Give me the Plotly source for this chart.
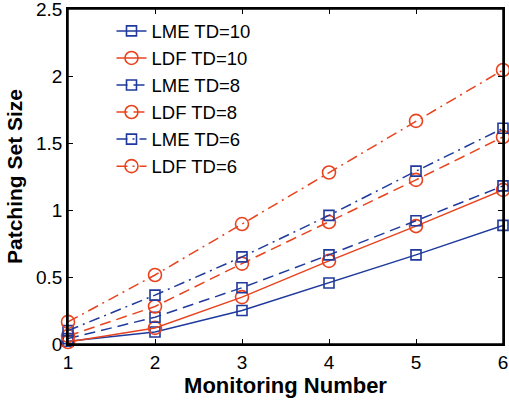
import plotly.graph_objects as go

x = [1, 2, 3, 4, 5, 6]
lme_td10 = [0.02, 0.09, 0.25, 0.455, 0.665, 0.885]
ldf_td10 = [0.015, 0.12, 0.35, 0.62, 0.88, 1.15]
lme_td8 = [0.04, 0.20, 0.42, 0.665, 0.92, 1.18]
ldf_td8 = [0.06, 0.28, 0.60, 0.91, 1.225, 1.545]
lme_td6 = [0.10, 0.365, 0.65, 0.96, 1.29, 1.61]
ldf_td6 = [0.165, 0.515, 0.895, 1.28, 1.665, 2.045]
y_ticks = [0, 0.5, 1, 1.5, 2, 2.5]
y_ticktext = ["0", "0.5", "1", "1.5", "2", "2.5"]

BLUE = "#1f3a9c"
RED = "#e8431e"
DASH = "11px,6px"
DASHDOT = "11px,5px,2px,5px"

series = [
    ("LME TD=10", lme_td10, BLUE, "square-open", "solid", 10),
    ("LDF TD=10", ldf_td10, RED, "circle-open", "solid", 13),
    ("LME TD=8", lme_td8, BLUE, "square-open", DASH, 10),
    ("LDF TD=8", ldf_td8, RED, "circle-open", DASH, 13),
    ("LME TD=6", lme_td6, BLUE, "square-open", DASHDOT, 10),
    ("LDF TD=6", ldf_td6, RED, "circle-open", DASHDOT, 13),
]

fig = go.Figure()
for name, ys, color, sym, dash, size in series:
    fig.add_trace(go.Scatter(
        x=x, y=ys, name=name, mode="lines+markers",
        line=dict(color=color, width=1.5, dash=dash),
        marker=dict(symbol=sym, size=size, color=color, line=dict(width=1.6, color=color)),
        cliponaxis=False,
    ))

font = "Liberation Sans, Arial, sans-serif"
axis_common = dict(
    showgrid=False, zeroline=False, showline=True, linecolor="black", linewidth=1.5,
    mirror="allticks", ticks="inside", ticklen=5, tickcolor="black", tickwidth=1,
    tickfont=dict(family=font, size=19, color="black"), automargin=False,
    ticklabeloverflow="allow",
)
fig.update_layout(
    template="none",
    width=509, height=402,
    margin=dict(l=68, r=6, t=9, b=58, autoexpand=False),
    paper_bgcolor="white", plot_bgcolor="white",
    xaxis=dict(range=[1, 6], tickvals=x, ticktext=[str(v) for v in x],
               title=dict(text="<b>Monitoring Number</b>", font=dict(family=font, size=22, color="black"), standoff=1),
               **axis_common),
    yaxis=dict(range=[0, 2.5], tickvals=y_ticks, ticktext=y_ticktext,
               title=dict(text="<b>Patching Set Size</b>", font=dict(family=font, size=21, color="black"), standoff=8),
               **axis_common),
    legend=dict(x=0.10, y=0.99, xanchor="left", yanchor="top", bgcolor="rgba(255,255,255,0)",
                borderwidth=0, font=dict(family=font, size=18.5, color="black"),
                tracegroupgap=0),
    showlegend=True,
    shapes=[dict(type="rect", xref="paper", yref="paper", x0=0, y0=0, x1=1, y1=1,
                 line=dict(color="black", width=1.5), layer="above")],
)
fig.write_html("out.html", post_script="document.body.style.margin='0';document.body.style.overflow='hidden';",
               config={"displayModeBar": False})
